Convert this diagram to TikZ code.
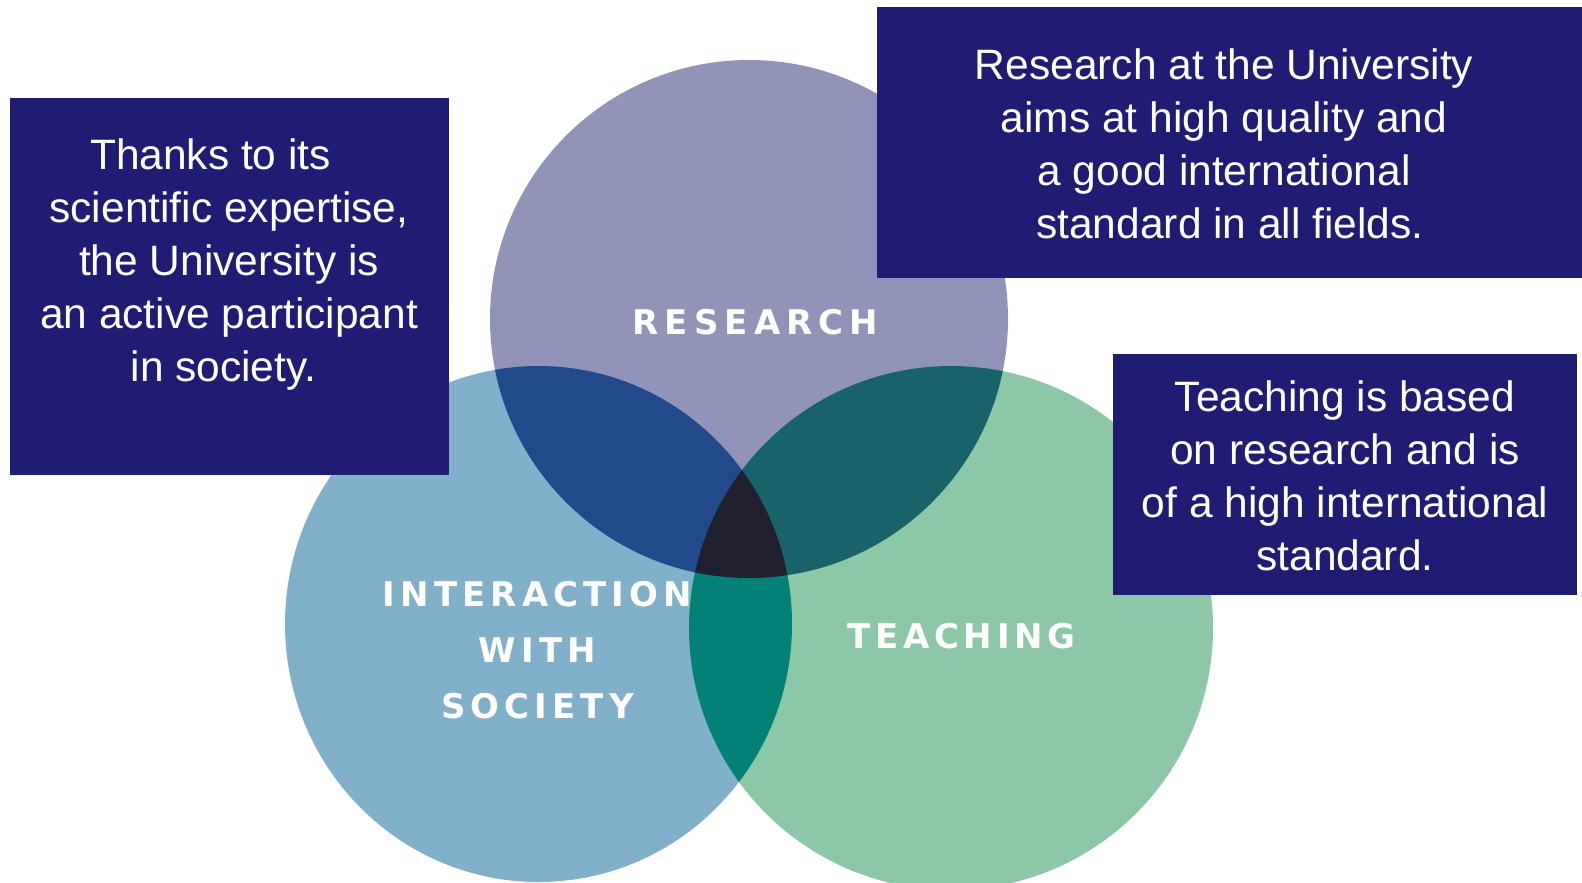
\documentclass[tikz,border=0pt]{standalone}
\usepackage{fontspec}
\setmainfont{Liberation Sans}
\newfontfamily\labelfont[LetterSpace=14]{DejaVu Sans}
\definecolor{navy}{RGB}{32,28,115}
\definecolor{cres}{RGB}{145,147,185}
\definecolor{cint}{RGB}{129,176,202}
\definecolor{ctea}{RGB}{140,199,167}
\definecolor{cri}{RGB}{34,74,138}
\definecolor{crt}{RGB}{26,98,106}
\definecolor{cit}{RGB}{3,129,118}
\definecolor{call}{RGB}{31,31,47}
\tikzset{
  box/.style={fill=navy, draw=none, inner sep=0, outer sep=0, anchor=north west},
  txt/.style={text=white, font=\fontsize{42.5}{53}\selectfont, align=center, inner sep=0, anchor=north},
  lab/.style={text=white, font=\labelfont\bfseries\fontsize{34}{56}\selectfont, align=center, inner sep=0}
}
\begin{document}
\begin{tikzpicture}[x=1pt,y=-1pt]
\useasboundingbox (0,0) rectangle (1582,883);
\coordinate (cR) at (749,319);
\coordinate (cI) at (538.5,624);
\coordinate (cT) at (951,628);
\def\pR{(cR) circle[radius=259]}
\def\pI{(cI) ellipse[x radius=253.5, y radius=258]}
\def\pT{(cT) circle[radius=262]}
% circles
\fill[cres] \pR;
\fill[cint] \pI;
\fill[ctea] \pT;
\begin{scope}
  \clip \pR;
  \fill[cri] \pI;
  \fill[crt] \pT;
\end{scope}
\begin{scope}
  \clip \pI;
  \fill[cit] \pT;
\end{scope}
\begin{scope}
  \clip \pR;
  \clip \pI;
  \fill[call] \pT;
\end{scope}
% circle labels
\node[lab] (lres) at (755.5,322) {\addfontfeature{LetterSpace=18}RESEARCH};
\node[lab] (lint) at (537.5,650) {\addfontfeature{LetterSpace=15}INTERACTION\\\addfontfeature{LetterSpace=15}WITH\\\addfontfeature{LetterSpace=15}SOCIETY};
\node[lab] (ltea) at (961.5,636) {TEACHING};
% boxes
\node[box, minimum width=439pt, minimum height=377pt] (b1) at (10,98) {};
\node[box, minimum width=705pt, minimum height=271pt] (b2) at (877,7) {};
\node[box, minimum width=464pt, minimum height=241pt] (b3) at (1113,354) {};
% box texts
\node[txt] (t1) at (229,138.5) {Thanks to its\hspace*{37pt}\\scientific expertise,\\the University is\\an active participant\\in society.\hspace*{11pt}};
\node[txt] (t2) at (1224,49) {Research at the University\\aims at high quality and\hspace*{10pt}\\a good international\\\hspace*{12pt}standard in all fields.};
\node[txt] (t3) at (1345,380) {Teaching is based\\on research and is\\of a high international\hspace*{9pt}\\standard.};
\end{tikzpicture}
\end{document}
